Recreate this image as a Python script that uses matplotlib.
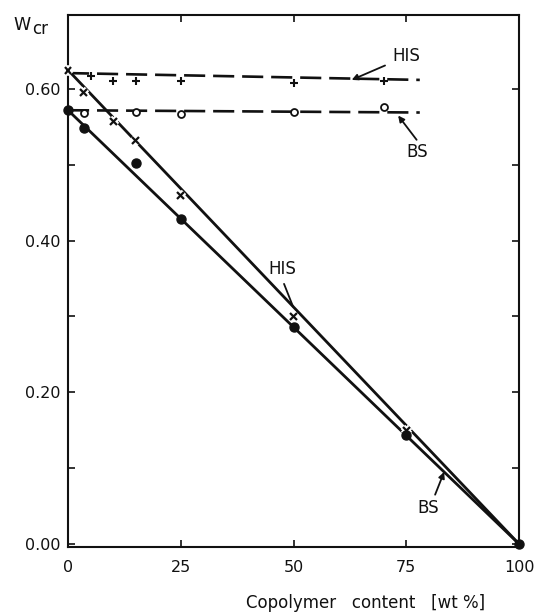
import matplotlib
matplotlib.use("Agg")
import matplotlib.pyplot as plt
import matplotlib.patheffects as pe
from matplotlib.ticker import FixedLocator

# BS blends: measured W_cr (filled), constant-level series (open)
bs_solid_x = [0, 3.5, 15, 25, 50, 75, 100]
bs_solid_y = [0.572, 0.549, 0.503, 0.429, 0.286, 0.144, 0.0]
bs_open_x = [3.5, 15, 25, 50, 70]
bs_open_y = [0.569, 0.570, 0.567, 0.570, 0.576]

# HIS blends: crosses on the falling line, pluses on the level line
his_cross_x = [0, 3.5, 10, 15, 25, 50, 75]
his_cross_y = [0.625, 0.595, 0.557, 0.532, 0.459, 0.300, 0.150]
his_plus_x = [5, 10, 15, 25, 50, 70]
his_plus_y = [0.617, 0.611, 0.611, 0.611, 0.608, 0.610]

# Straight guide lines
bs_line_x, bs_line_y = [0, 100], [0.572, 0.0]
his_line_x, his_line_y = [0, 100], [0.625, 0.0]
bs_level_x, bs_level_y = [0, 78], [0.572, 0.569]
his_level_x, his_level_y = [0, 78], [0.621, 0.612]

x_ticks = [0, 25, 50, 75, 100]
x_labels = ["0", "25", "50", "75", "100"]
y_ticks = [0.0, 0.2, 0.4, 0.6]
y_labels = ["0.00", "0.20", "0.40", "0.60"]
y_minor = [0.1, 0.3, 0.5]

plt.rcParams["font.family"] = ["DejaVu Sans"]

fig = plt.figure(figsize=(5.34, 6.16), dpi=100)
ax = fig.add_axes([68 / 534, 69 / 616, 451 / 534, 532 / 616])
ax.set_xlim(0, 100)
ax.set_ylim(-0.004, 0.6976)

ink = "#111111"
halo = [pe.Stroke(linewidth=4.5, foreground="white"), pe.Normal()]

# guide lines
ax.plot(bs_line_x, bs_line_y, color=ink, lw=2.0, solid_capstyle="butt", zorder=2)
ax.plot(his_line_x, his_line_y, color=ink, lw=2.0, solid_capstyle="butt", zorder=2)
ax.plot(bs_level_x, bs_level_y, color=ink, lw=1.9, dashes=(8, 3), zorder=2)
ax.plot(his_level_x, his_level_y, color=ink, lw=1.9, dashes=(8, 3), zorder=2)

# markers
ax.plot(his_cross_x, his_cross_y, ls="none", marker="x", ms=5, mew=1.6,
        color=ink, path_effects=halo, zorder=4, clip_on=False)
ax.plot(his_plus_x, his_plus_y, ls="none", marker="+", ms=6, mew=1.5,
        color=ink, zorder=4)
ax.plot(bs_open_x, bs_open_y, ls="none", marker="o", ms=5, mew=1.3,
        mfc="white", mec=ink, zorder=4)
ax.plot(bs_solid_x, bs_solid_y, ls="none", marker="o", ms=6.5,
        color=ink, zorder=5, clip_on=False)

# curve labels
arrow = dict(arrowstyle="-|>", lw=1.3, color=ink, mutation_scale=9,
             shrinkA=0, shrinkB=0)
ax.text(75, 0.644, "HIS", fontsize=12, ha="center", va="center", color=ink)
ax.annotate("", xy=(62.9, 0.612), xytext=(70.3, 0.631), arrowprops=arrow)
ax.text(77.4, 0.517, "BS", fontsize=12, ha="center", va="center", color=ink)
ax.annotate("", xy=(73.2, 0.565), xytext=(77.3, 0.533), arrowprops=arrow)
ax.text(79.8, 0.047, "BS", fontsize=12, ha="center", va="center", color=ink)
ax.annotate("", xy=(83.4, 0.095), xytext=(81.4, 0.065), arrowprops=arrow)
ax.text(47.5, 0.362, "HIS", fontsize=12, ha="center", va="center", color=ink)
ax.annotate("", xy=(49.9, 0.313), xytext=(47.9, 0.343),
            arrowprops=dict(arrowstyle="-", lw=1.3, color=ink,
                            shrinkA=0, shrinkB=0))

# axes styling
for s in ax.spines.values():
    s.set_linewidth(1.5)
    s.set_color(ink)
ax.set_xticks(x_ticks)
ax.set_xticklabels(x_labels)
ax.set_yticks(y_ticks)
ax.set_yticklabels(y_labels)
ax.yaxis.set_minor_locator(FixedLocator(y_minor))
ax.tick_params(which="both", direction="in", length=5, width=1.2,
               top=True, right=True, colors=ink)
ax.tick_params(axis="x", pad=9, labelsize=11.5)
ax.tick_params(axis="y", pad=5.5, labelsize=11.5)

ax.text(0.395, -0.105, "Copolymer   content   [wt %]", transform=ax.transAxes,
        fontsize=12, ha="left", va="center", color=ink)
fig.text(13 / 534, 1 - 30 / 616, "W", fontsize=12.5, ha="left", va="baseline", color=ink)
fig.text(32 / 534, 1 - 34 / 616, "cr", fontsize=12, ha="left", va="baseline", color=ink)

fig.savefig("out.png", dpi=100, facecolor="white")
